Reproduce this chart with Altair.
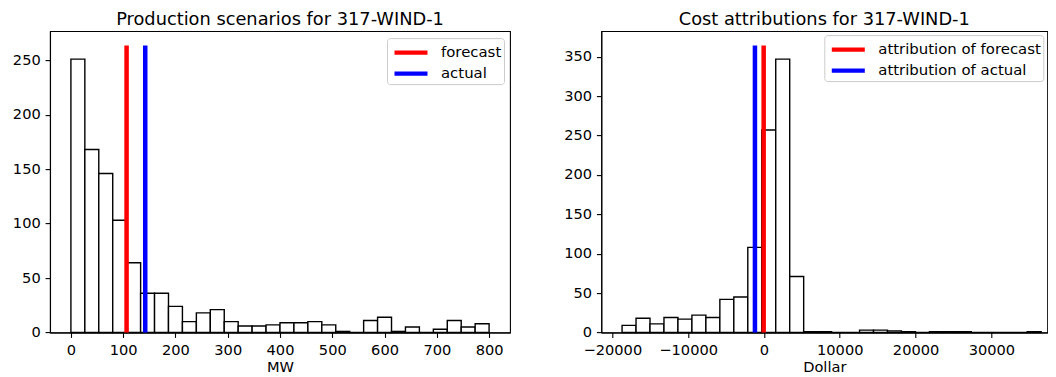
import altair as alt
import numpy as np
import pandas as pd

# ---------------- data ----------------
left_title = "Production scenarios for 317-WIND-1"
left_xlabel = "MW"
left_counts = [251, 168, 146, 103, 64, 36, 36, 24, 10, 18, 21, 10, 6, 6, 7,
               9, 9, 10, 7, 1, 0, 11, 14, 1, 5, 0, 3, 11, 5, 8]
left_bin_range = [0, 800]
left_marker_labels = ["forecast", "actual"]
left_marker_values = [106.5, 142.2]
left_xticks = [0, 100, 200, 300, 400, 500, 600, 700, 800]
left_yticks = [0, 50, 100, 150, 200, 250]

right_title = "Cost attributions for 317-WIND-1"
right_xlabel = "Dollar"
right_counts = [9, 18, 11, 19, 17, 22, 19, 42, 45, 108, 257, 347, 71, 1, 1,
                0, 0, 3, 3, 2, 1, 0, 1, 1, 1, 0, 0, 0, 0, 1]
right_bin_range = [-18720, 36570]
right_marker_labels = ["attribution of forecast", "attribution of actual"]
right_marker_values = [-40, -1190]
right_xticks = [-20000, -10000, 0, 10000, 20000, 30000]
right_yticks = [0, 50, 100, 150, 200, 250, 300, 350]

marker_colors = ["#ff0000", "#0000ff"]

FONT = "DejaVu Sans"
PLOT_H = 301.4
TICK_FS = 14.6
TITLE_FS = 17.8


def hist_frame(counts, rng):
    edges = np.linspace(rng[0], rng[1], len(counts) + 1)
    return pd.DataFrame({"start": edges[:-1], "end": edges[1:],
                         "count": counts, "zero": [0] * len(counts)})


def panel(counts, rng, labels, values, title, xlabel, xdomain, xticks, yticks,
          width, legend_offset):
    hist = hist_frame(counts, rng)
    top = max(counts) * 1.05
    ymax = top * 1.05
    marks = pd.DataFrame({"label": labels, "value": values,
                          "base": [0] * len(labels), "top": [top] * len(labels)})
    xscale = alt.Scale(domain=xdomain, nice=False, zero=False)
    yscale = alt.Scale(domain=[0, ymax], nice=False)
    bars = alt.Chart(hist).mark_rect(
        fill="white", stroke="black", strokeWidth=1.4
    ).encode(
        x=alt.X("start:Q", scale=xscale,
                axis=alt.Axis(values=xticks, title=xlabel, format="d")),
        x2="end:Q",
        y=alt.Y("count:Q", scale=yscale,
                axis=alt.Axis(values=yticks, title=None, format="d")),
        y2="zero:Q",
    )
    rules = alt.Chart(marks).mark_rule(strokeWidth=4.5).encode(
        x=alt.X("value:Q", scale=xscale, title=xlabel),
        y=alt.Y("base:Q", scale=yscale, title=None),
        y2="top:Q",
        color=alt.Color(
            "label:N",
            scale=alt.Scale(domain=labels, range=marker_colors),
            legend=alt.Legend(title=None, orient="top-right",
                              offset=legend_offset,
                              labelExpr="datum.label + ' '"),
        ),
    )
    return alt.layer(bars, rules).properties(
        width=width, height=PLOT_H,
        title=alt.TitleParams(title, anchor="middle", baseline="bottom",
                              offset=-16.1),
    )


left = panel(left_counts, left_bin_range, left_marker_labels, left_marker_values,
             left_title, left_xlabel, [-40, 840], left_xticks, left_yticks,
             460, 6.5)
right = panel(right_counts, right_bin_range, right_marker_labels,
              right_marker_values, right_title, right_xlabel, [-21460, 37380],
              right_xticks, right_yticks, 446, 4)

chart = alt.hconcat(left, right, spacing=91.3, bounds="flush").resolve_scale(
    color="independent", x="independent", y="independent"
).resolve_legend(color="independent").properties(
    padding={"left": 3, "top": 2.1, "right": 0, "bottom": 0}
).configure_axis(
    labelFont=FONT, labelFontSize=TICK_FS, labelColor="black",
    tickColor="black", tickSize=4.9, tickWidth=1.1,
    domainColor="black", domainWidth=1.1, grid=False,
    labelPadding=4.9, labelFlush=False,
    titleFont=FONT, titleFontSize=TICK_FS, titleFontWeight="normal",
    titleColor="black", titlePadding=3,
).configure_view(
    stroke="black", strokeWidth=1.1
).configure_title(
    font=FONT, fontSize=TITLE_FS, fontWeight="normal", color="black"
).configure_legend(
    labelFont=FONT, labelFontSize=14.9, labelColor="black",
    symbolType="M-1.65,0H1.65", symbolStrokeWidth=4.2, symbolSize=400,
    symbolOffset=9.5, labelOffset=17.5,
    fillColor="white", strokeColor="#cccccc", cornerRadius=3,
    padding=2, rowPadding=0, labelLimit=400,
)

chart.save("out.html", embed_options={"renderer": "svg", "actions": False})
